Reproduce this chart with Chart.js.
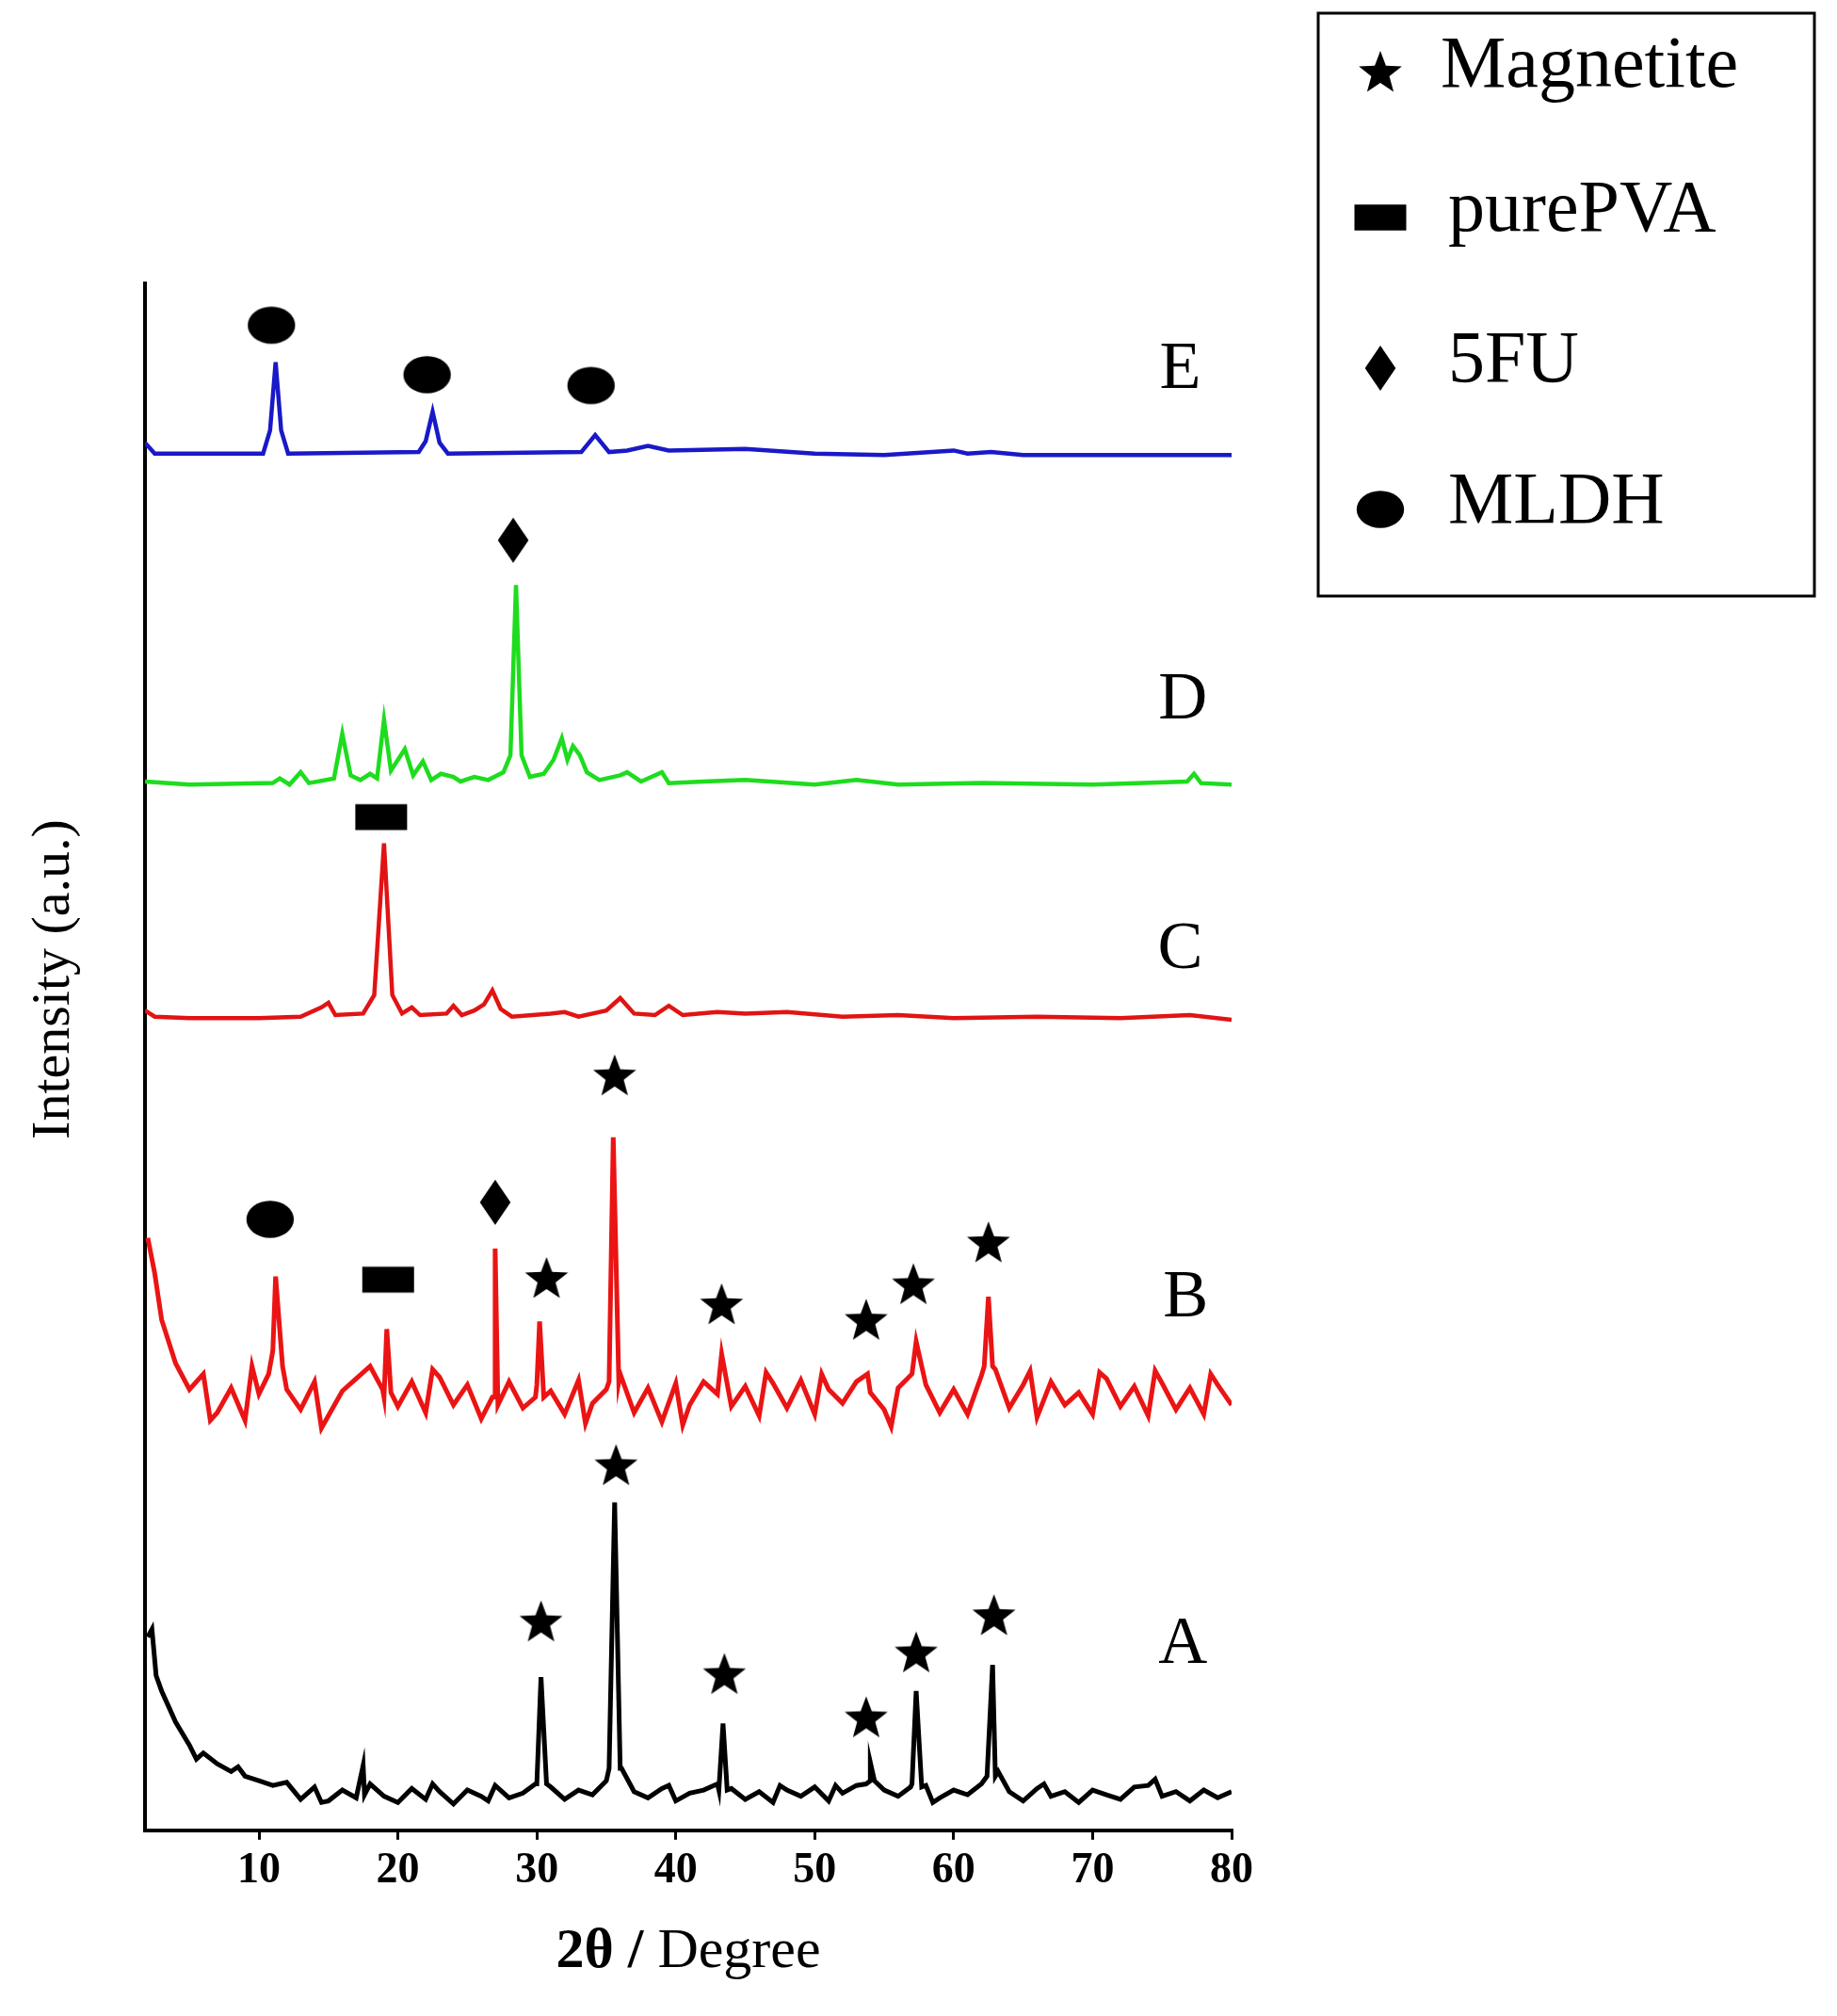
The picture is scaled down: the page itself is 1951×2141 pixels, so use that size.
<!DOCTYPE html>
<html>
<head>
<meta charset="utf-8">
<script src="https://cdn.jsdelivr.net/npm/chart.js@4"></script>
<style>
  html, body { margin: 0; padding: 0; background: #fff; }
  #container { width: 1951px; height: 2141px; }
</style>
</head>
<body>
<div id="container"><canvas id="myChart" width="1951" height="2141"></canvas></div>
<script>
// curve colours
let aColor = 'rgb(0,0,0)';
let bColor = 'rgb(235,20,20)';
let cColor = 'rgb(225,20,20)';
let dColor = 'rgb(30,220,30)';
let eColor = 'rgb(25,25,200)';

// A and B: values at whole degrees 2..80, plus extra points at the peaks
let aGrid = [12.5,9,7,5.5,5,4.3,3.8,3.5,3.2,2.9,3.1,
  2.0,2.8,1.9,2.6,2.1,3.0,2.2,1.8,2.7,2.0,2.5,1.7,2.6,2.2,2.9,2.1,2.4,3.0,2.8,2.0,2.6,2.3,3.2,4.0,
  2.5,2.1,2.7,1.9,2.4,2.6,3.0,2.7,2.0,2.5,1.8,2.6,2.2,2.8,1.9,2.4,2.9,3.2,2.6,2.2,3.0,2.9,2.1,2.6,
  2.3,3.0,3.5,2.5,1.9,2.7,2.2,2.5,1.8,2.6,2.3,2.0,2.8,2.9,2.2,2.5,1.9,2.6,2.1,2.5];
let aExtra = [[2.3,13],[2.6,10],[3.5,8],[17.5,4.2],[17.6,2.3],[29.9,3],[30.3,9.9],[30.7,3],
  [35.2,4],[35.6,21.2],[36.1,4],[43.1,2.6],[43.4,6.9],[43.7,2.6],[53.7,3],[54,4.4],[54.3,3.2],
  [56.9,2.8],[57.3,9.0],[57.7,2.8],[62.4,3.5],[62.8,10.7],[63.2,3.8],
  [5.5,4.6],[8.5,4.1],[14.5,1.8],[22.5,3.0],[26.5,1.9],[39.5,2.9],[47.5,2.9],[51.5,2.9],[58.5,1.8],[66.5,3.0],[74.5,3.3]];

let bGrid = [38.3,33,30.2,28.5,29.5,27,28.6,26.5,28.2,31,28.5,27.2,29,26.8,28.4,29.2,30,28,27.4,29,27,
  29.3,27.5,28.8,26.6,28,29,27.3,28.8,28.4,26.9,29.1,27.6,28.5,29.5,27,28.6,26.4,28.9,27.5,29,28.2,
  27.4,28.7,26.8,28.9,27.3,29.1,26.9,28.5,27.6,29,28.3,27.2,28.6,29.5,28.8,27,28.5,26.9,29.4,29.8,
  27.3,28.8,26.7,29,27.5,28.3,26.9,29.2,27.4,28.7,26.8,28.9,27.2,28.6,26.9,28.8,27.5];
let bExtra = [[10.7,29.5],[11.2,35.8],[11.7,30],[18.9,28.5],[19.2,32.4],[19.5,28.3],[26.8,28],
  [27,37.6],[27.2,27.5],[29.9,28],[30.2,32.9],[30.5,28],[35.2,29],[35.5,44.8],[35.9,29],[43.3,30.8],
  [53.8,29.5],[57.3,31.6],[62.2,30],[62.5,34.5],[62.8,30],
  [2.5,36],[6.5,26.5],[9.5,30],[14.5,26],[22.5,29.8],[33.5,26.3],[40.5,26.2],[46.5,29.6],
  [50.5,29.5],[55.5,26.1],[65.5,29.7],[70.5,29.6],[74.5,29.7],[78.5,29.5]];

let cData = [[1.8,53],[2.5,52.6],[5,52.5],[10,52.5],[13,52.6],[14.5,53.2],[15,53.5],[15.5,52.7],[17.5,52.8],
  [18.3,54],[19,63.8],[19.6,54],[20.3,52.8],[21,53.2],[21.6,52.7],[23.5,52.8],[24,53.3],[24.6,52.7],
  [25.5,53],[26.2,53.4],[26.8,54.3],[27.4,53.1],[28.2,52.6],[31,52.8],[32,52.9],[33,52.6],[35,53],
  [36,53.8],[37,52.8],[38.5,52.7],[39.5,53.3],[40.5,52.7],[43,52.9],[45,52.8],[48,52.9],[52,52.6],
  [56,52.7],[60,52.5],[66,52.6],[72,52.5],[77,52.7],[80,52.4]];

let dData = [[1.8,67.8],[5,67.6],[11,67.7],[11.5,68],[12.2,67.6],[13,68.4],[13.6,67.7],[15.4,68],[16,70.9],
  [16.6,68.2],[17.3,67.9],[18,68.3],[18.5,68.0],[19,71.8],[19.5,68.5],[20.5,69.9],[21.1,68.2],[21.8,69.1],
  [22.4,67.9],[23.1,68.3],[24,68.1],[24.5,67.8],[25.5,68.1],[26.5,67.9],[27.6,68.4],[28.1,69.5],[28.5,80.5],
  [28.9,69.5],[29.5,68.1],[30.5,68.3],[31.2,69.2],[31.8,70.6],[32.2,69.2],[32.6,70.1],[33.1,69.5],
  [33.6,68.4],[34.5,67.9],[36,68.2],[36.5,68.4],[37.5,67.8],[39,68.4],[39.5,67.7],[42,67.8],[45,67.9],
  [50,67.6],[53,67.9],[56,67.6],[62,67.7],[70,67.6],[76.8,67.8],[77.3,68.3],[77.8,67.7],[80,67.6]];

let eData = [[1.8,89.7],[2.5,89],[10.3,89],[10.8,90.5],[11.2,94.9],[11.6,90.5],[12.1,89],[21.5,89.1],
  [22,89.8],[22.5,91.7],[23,89.7],[23.6,89],[33.2,89.1],[34.2,90.2],[35.2,89.1],[36.5,89.2],[38,89.5],
  [39.5,89.2],[45,89.3],[50,89.0],[55,88.9],[60,89.2],[61,89],[62.7,89.1],[65,88.9],[80,88.9]];

// phase markers
let markers = {
  star: [[30.7,35.6],[35.6,48.7],[43.3,33.9],[53.7,32.9],[57.1,35.2],[62.5,37.9],
         [30.3,13.4],[35.7,23.5],[43.5,10.0],[53.7,7.2],[57.3,11.4],[62.9,13.8]],
  rect: [[18.8,65.5],[19.3,35.6]],
  diamond: [[28.3,83.4],[27,40.6]],
  ellipse: [[10.9,97.3],[22.1,94.1],[33.9,93.4],[10.8,39.5]]
};

let curveLabels = [['E',76.3,94.4],['D',76.5,73],['C',76.3,56.9],['B',76.7,34.4],['A',76.5,12.0]];

function mergeGrid(grid, extra) {
  let pts = grid.map(function (y, i) { return {x: 2 + i, y: y}; });
  extra.forEach(function (p) { pts.push({x: p[0], y: p[1]}); });
  pts.sort(function (a, b) { return a.x - b.x; });
  return pts;
}

function toPts(arr) {
  return arr.map(function (p) { return {x: p[0], y: p[1]}; });
}

function drawShape(ctx, kind, cx, cy, s) {
  ctx.fillStyle = '#000';
  ctx.beginPath();
  if (kind === 'star') {
    for (let i = 0; i < 10; i++) {
      let r = i % 2 === 0 ? s : s * 0.42;
      let a = -Math.PI / 2 + i * Math.PI / 5;
      ctx.lineTo(cx + r * Math.cos(a), cy + r * Math.sin(a));
    }
    ctx.closePath();
  } else if (kind === 'rect') {
    ctx.rect(cx - s * 1.1, cy - s * 0.55, s * 2.2, s * 1.1);
  } else if (kind === 'diamond') {
    ctx.moveTo(cx, cy - s);
    ctx.lineTo(cx + s * 0.68, cy);
    ctx.lineTo(cx, cy + s);
    ctx.lineTo(cx - s * 0.68, cy);
    ctx.closePath();
  } else {
    ctx.ellipse(cx, cy, s * 1.05, s * 0.82, 0, 0, Math.PI * 2);
  }
  ctx.fill();
}

function markerImage(kind, s) {
  let c = document.createElement('canvas');
  c.width = s * 3; c.height = s * 3;
  drawShape(c.getContext('2d'), kind, s * 1.5, s * 1.5, s);
  return c;
}

let sizes = {star: 24, rect: 25, diamond: 24, ellipse: 24};

function lineSet(data, color, w) {
  return {type: 'line', data: data, borderColor: color, borderWidth: w, pointRadius: 0,
          fill: false, tension: 0};
}

let sets = [
  lineSet(mergeGrid(aGrid, aExtra), aColor, 5),
  lineSet(mergeGrid(bGrid, bExtra), bColor, 5),
  lineSet(toPts(cData), cColor, 4.5),
  lineSet(toPts(dData), dColor, 4.5),
  lineSet(toPts(eData), eColor, 4.5)
];
Object.keys(markers).forEach(function (k) {
  sets.push({type: 'scatter', data: toPts(markers[k]), pointStyle: markerImage(k, sizes[k]),
             pointRadius: 20, showLine: false});
});

let extras = {
  id: 'extras',
  afterDraw: function (chart) {
    let ctx = chart.ctx, xs = chart.scales.x, ys = chart.scales.y, area = chart.chartArea;
    ctx.save();
    ctx.fillStyle = '#000';
    ctx.textAlign = 'center';
    ctx.textBaseline = 'middle';
    ctx.font = '72px "Liberation Serif"';
    curveLabels.forEach(function (l) {
      ctx.fillText(l[0], xs.getPixelForValue(l[1]), ys.getPixelForValue(l[2]));
    });
    // axis titles
    ctx.font = 'bold 60px "Liberation Serif"';
    let tx = (area.left + area.right) / 2;
    ctx.textAlign = 'left';
    let t1 = '2θ / ', w1 = ctx.measureText(t1).width;
    ctx.font = '60px "Liberation Serif"';
    let w2 = ctx.measureText('Degree').width;
    let sx = tx - (w1 + w2) / 2;
    ctx.font = 'bold 60px "Liberation Serif"';
    ctx.fillText(t1, sx, 2073);
    ctx.font = '60px "Liberation Serif"';
    ctx.fillText('Degree', sx + w1, 2073);
    ctx.save();
    ctx.translate(58, 1040);
    ctx.rotate(-Math.PI / 2);
    ctx.textAlign = 'center';
    ctx.font = '58px "Liberation Serif"';
    ctx.fillText('Intensity (a.u.)', 0, 0);
    ctx.restore();
    // legend box
    ctx.lineWidth = 3;
    ctx.strokeStyle = '#000';
    ctx.strokeRect(1400, 14, 527, 619);
    let rows = [['star', 'Magnetite', 72], ['rect', 'purePVA', 225], ['diamond', '5FU', 385], ['ellipse', 'MLDH', 535]];
    ctx.font = '78px "Liberation Serif"';
    ctx.textAlign = 'left';
    rows.forEach(function (r) {
      drawShape(ctx, r[0], 1466, r[2] + 6, sizes[r[0]]);
      ctx.fillText(r[1], r[0] === 'star' ? 1530 : 1538, r[2]);
    });
    ctx.restore();
  }
};

let ctx = document.getElementById('myChart').getContext('2d');
let chart = new Chart(ctx, {
  type: 'line',
  data: {datasets: sets},
  options: {
    responsive: false,
    animation: false,
    layout: {padding: {left: 146, right: 643, top: 301, bottom: 120}},
    plugins: {legend: {display: false}, tooltip: {enabled: false}},
    scales: {
      x: {
        type: 'linear', min: 1.8, max: 80,
        afterBuildTicks: function (axis) {
          axis.ticks = [10, 20, 30, 40, 50, 60, 70, 80].map(function (v) { return {value: v}; });
        },
        grid: {drawOnChartArea: false, drawTicks: true, tickLength: 10, color: '#000', lineWidth: 3},
        border: {display: true, color: '#000', width: 4},
        ticks: {color: '#000', font: {family: 'Liberation Serif', size: 46, weight: 'bold'}, padding: 6, maxRotation: 0}
      },
      y: {
        type: 'linear', min: 0, max: 100,
        grid: {display: false},
        border: {display: true, color: '#000', width: 4},
        ticks: {display: false}
      }
    }
  },
  plugins: [extras]
});
</script>
</body>
</html>
